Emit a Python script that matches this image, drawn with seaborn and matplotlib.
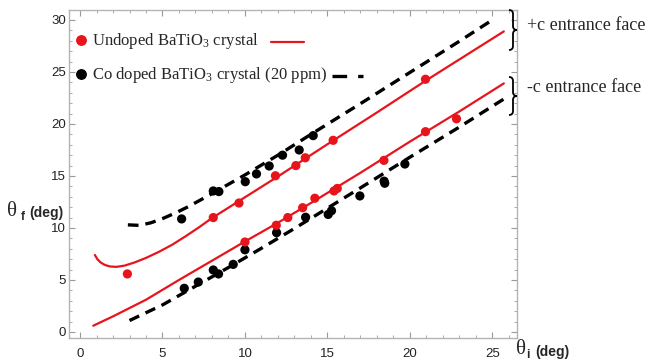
import matplotlib
matplotlib.use("Agg")
import matplotlib.pyplot as plt
import seaborn as sns
from matplotlib.lines import Line2D
from matplotlib.path import Path
from matplotlib.patches import PathPatch
from matplotlib.ticker import MultipleLocator

# ---------------- data ----------------
undoped_x = [2.87, 8.08, 9.64, 10.0, 11.9, 12.6, 13.5, 14.24, 15.4, 15.6,
             11.85, 13.09, 13.66, 15.35, 20.95, 20.95, 22.83, 18.43]
undoped_y = [5.58, 11.0, 12.4, 8.65, 10.26, 11.0, 11.95, 12.86, 13.56, 13.8,
             15.02, 16.0, 16.75, 18.43, 24.3, 19.26, 20.5, 16.5]

codoped_x = [6.16, 8.08, 8.42, 10.02, 10.7, 11.47, 12.28, 13.29, 14.14,
             6.32, 7.17, 8.08, 8.40, 9.29, 10.0, 11.92, 13.68, 15.05, 15.25,
             16.97, 18.44, 18.48, 19.7]
codoped_y = [10.87, 13.56, 13.5, 14.45, 15.2, 15.96, 17.0, 17.5, 18.88,
             4.2, 4.8, 5.96, 5.58, 6.5, 7.9, 9.55, 11.03, 11.3, 11.66,
             13.08, 14.5, 14.3, 16.15]

# fitted curves
fit_red_plus_x = [0.9, 1.05, 1.25, 1.5, 1.8, 2.2, 2.7, 3.3, 4.0, 4.8, 5.6, 6.4, 7.2,
                  8.0, 10.0, 12.0, 15.0, 18.0, 21.0, 25.7]
fit_red_plus_y = [7.4, 7.0, 6.68, 6.45, 6.3, 6.26, 6.38, 6.68, 7.12, 7.72, 8.4, 9.2, 10.05,
                  10.95, 12.95, 14.95, 18.05, 21.1, 24.2, 28.9]

fit_red_minus_x = [0.8, 2.0, 4.0, 6.0, 8.0, 10.0, 12.0, 14.0, 17.0, 20.0, 23.0, 25.7]
fit_red_minus_y = [0.6, 1.5, 3.1, 5.0, 6.85, 8.7, 10.5, 12.4, 15.3, 18.3, 21.2, 23.9]

fit_blk_plus_x = [2.9, 3.6, 4.3, 5.0, 5.8, 6.5, 7.2, 8.0, 10.0, 12.0, 14.0, 17.0, 20.0, 23.0, 25.0]
fit_blk_plus_y = [10.3, 10.25, 10.5, 10.9, 11.45, 12.0, 12.6, 13.3, 15.1, 17.0, 19.0, 21.95, 24.95, 27.95, 30.0]

fit_blk_minus_x = [3.0, 5.0, 7.0, 9.0, 11.0, 13.0, 15.0, 17.0, 20.0, 23.0, 25.7]
fit_blk_minus_y = [1.1, 2.6, 4.4, 6.2, 8.05, 9.95, 11.9, 13.85, 16.8, 19.7, 22.4]

legend_labels = ["Undoped BaTiO$_3$ crystal", "Co doped BaTiO$_3$ crystal (20 ppm)"]
face_labels = ["+c entrance face", "-c entrance face"]
x_ticks = [0, 5, 10, 15, 20, 25]
y_ticks = [0, 5, 10, 15, 20, 25, 30]

RED = "#e8141c"
BLK = "#000000"

sns.set_theme(style="white")
plt.rcParams["mathtext.fontset"] = "custom"
plt.rcParams["mathtext.rm"] = "Liberation Serif"
plt.rcParams["mathtext.it"] = "Liberation Serif:italic"
plt.rcParams["mathtext.bf"] = "Liberation Sans:bold"

W, H = 649, 362
fig = plt.figure(figsize=(W / 100, H / 100), dpi=100)
ax = fig.add_axes([69 / W, 24 / H, 448 / W, 328 / H])


def fp(px, py):
    return px / W, 1 - py / H


# fitted lines
sns.lineplot(x=fit_red_plus_x, y=fit_red_plus_y, ax=ax, color=RED, lw=1.6,
             sort=False, estimator=None)
sns.lineplot(x=fit_red_minus_x, y=fit_red_minus_y, ax=ax, color=RED, lw=1.6,
             sort=False, estimator=None)
for xs, ys in [(fit_blk_plus_x, fit_blk_plus_y), (fit_blk_minus_x, fit_blk_minus_y)]:
    sns.lineplot(x=xs, y=ys, ax=ax, color=BLK, lw=2.4, sort=False, estimator=None)
    ax.lines[-1].set_dashes([3.2, 2.1])

# points
sns.scatterplot(x=codoped_x, y=codoped_y, ax=ax, color=BLK, s=44, edgecolor="none", zorder=5)
sns.scatterplot(x=undoped_x, y=undoped_y, ax=ax, color=RED, s=44, edgecolor="none", zorder=6)

ax.set_xlim(-0.67, 26.5)
ax.set_ylim(-0.58, 30.96)
ax.set_xticks(x_ticks)
ax.set_yticks(y_ticks)
ax.xaxis.set_minor_locator(MultipleLocator(1))
ax.yaxis.set_minor_locator(MultipleLocator(1))
ax.tick_params(which="both", direction="in", top=True, right=True, bottom=True, left=True,
               color="#9a9a9a", labelsize=9.5, labelcolor="#222222")
ax.tick_params(which="major", length=4, width=0.8)
ax.tick_params(which="minor", length=2, width=0.6)
ax.tick_params(axis="x", which="both", labeltop=False, labelbottom=True, pad=7)
ax.tick_params(axis="y", which="both", labelright=False, labelleft=True, pad=2)
for lab in ax.get_xticklabels() + ax.get_yticklabels():
    lab.set_fontfamily("Liberation Sans")
for sp in ax.spines.values():
    sp.set_color("#b4b4b4")
    sp.set_linewidth(1.0)
ax.set_xlabel("")
ax.set_ylabel("")

# legend (drawn manually, Mathematica style)
serif = "Liberation Serif"
fig.text(*fp(92, 41), legend_labels[0], family=serif, fontsize=12, va="center", ha="left")
fig.text(*fp(92, 75), legend_labels[1], family=serif, fontsize=12, va="center", ha="left")
fig.add_artist(Line2D([81 / W], [1 - 40 / H], marker="o", ms=6.8, color=RED, lw=0,
                      transform=fig.transFigure))
fig.add_artist(Line2D([81 / W], [1 - 74 / H], marker="o", ms=6.8, color=BLK, lw=0,
                      transform=fig.transFigure))
fig.add_artist(Line2D([271 / W, 304 / W], [1 - 41.5 / H] * 2, color=RED, lw=1.6,
                      transform=fig.transFigure))
fig.add_artist(Line2D([332 / W, 363 / W], [1 - 76 / H] * 2, color=BLK, lw=2.4,
                      dashes=[4.4, 3.3], transform=fig.transFigure))


# braces
def brace(x0, y0, y1, w=8.0):
    ym = (y0 + y1) / 2
    xm = x0 + w * 0.5
    r = 4.0
    pts = [(x0, y0), (xm, y0), (xm, y0 + r), (xm, ym - r), (xm, ym), (x0 + w, ym),
           (xm, ym), (xm, ym + r), (xm, y1 - r), (xm, y1), (x0, y1)]
    codes = [Path.MOVETO, Path.CURVE3, Path.CURVE3, Path.LINETO, Path.CURVE3, Path.CURVE3,
             Path.CURVE3, Path.CURVE3, Path.LINETO, Path.CURVE3, Path.CURVE3]
    verts = [fp(px, py) for px, py in pts]
    fig.add_artist(PathPatch(Path(verts, codes), facecolor="none", edgecolor="black",
                             lw=1.3, transform=fig.transFigure))


brace(509, 10, 50)
brace(509, 77, 115)
fig.text(*fp(527, 25), face_labels[0], family=serif, fontsize=13, va="center", ha="left")
fig.text(*fp(527, 87), face_labels[1], family=serif, fontsize=13, va="center", ha="left")

# axis labels
fig.text(*fp(516, 350), "θ", family=serif, fontsize=15, va="center", ha="left")
fig.text(*fp(526.5, 355), "i", family="Liberation Sans", fontweight="bold", fontsize=8.5,
         va="center", ha="left")
fig.text(*fp(535, 352), "(deg)", family="Liberation Sans", fontweight="bold", fontsize=10,
         va="center", ha="left")
fig.text(*fp(7, 212), "θ", family=serif, fontsize=15, va="center", ha="left")
fig.text(*fp(20.5, 217), "f", family="Liberation Sans", fontweight="bold", fontsize=8.5,
         va="center", ha="left")
fig.text(*fp(29, 213), "(deg)", family="Liberation Sans", fontweight="bold", fontsize=10,
         va="center", ha="left")

fig.savefig("out.png", dpi=100)
